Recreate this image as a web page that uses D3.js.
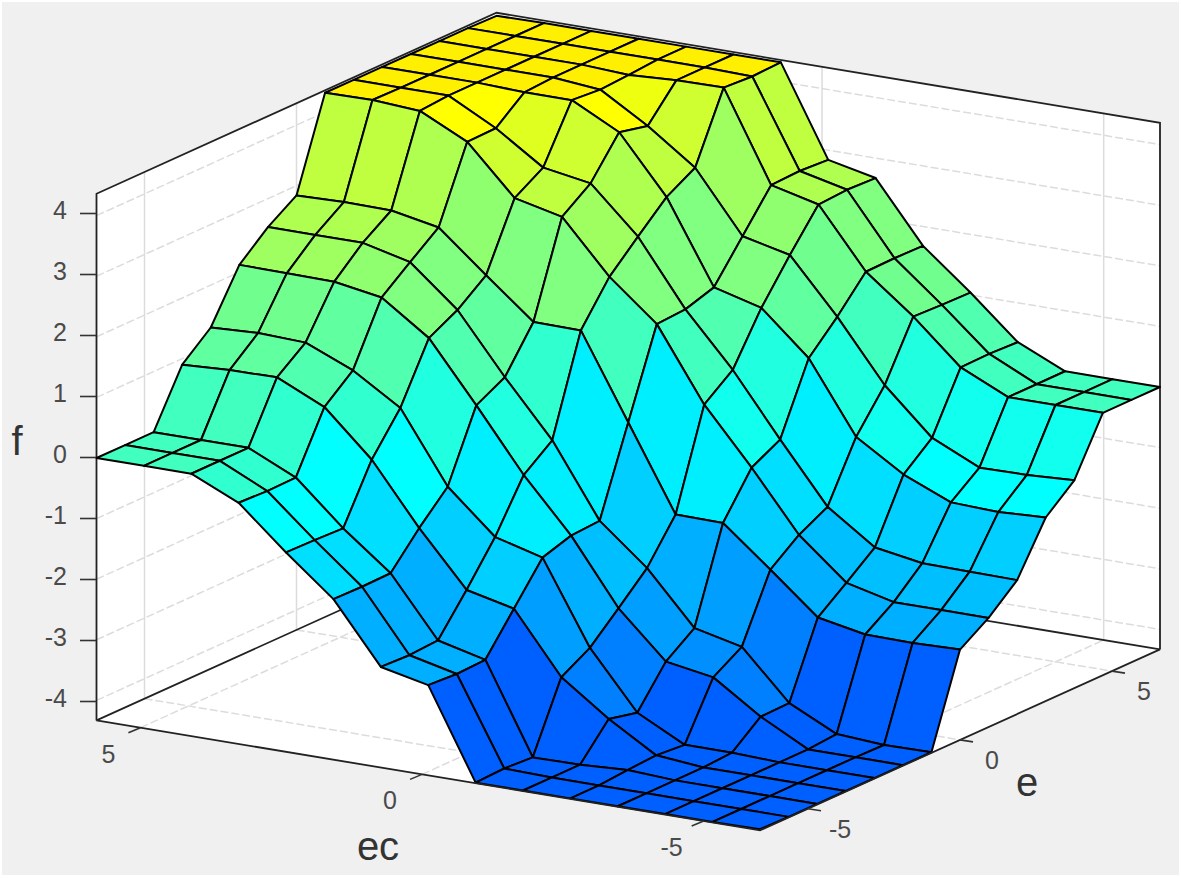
<!DOCTYPE html>
<html>
<head>
<meta charset="utf-8">
<script src="https://cdnjs.cloudflare.com/ajax/libs/d3/7.8.5/d3.min.js"></script>
<style>
  html, body { margin: 0; padding: 0; background: #fff; }
  svg { display: block; }
  text { font-family: "Liberation Sans", Arial, sans-serif; }
</style>
</head>
<body>
<div id="chart"></div>
<script>
// Tick labels
var fTicks = [-4, -3, -2, -1, 0, 1, 2, 3, 4];
var ecTicks = [5, 0, -5];
var eTicks = [-5, 0, 5];

// Surface height f, one row per ec grid line (ec high to low), e low to high
var fRow0 = [0, 0, 0, 0.90, 1.30, 2.12, 2.53, 2.84, 4.32, 4.32, 4.32, 4.32, 4.32, 4.32, 4.31];
var fRow1 = [0, 0, 0, 0.94, 1.34, 2.11, 2.53, 2.86, 4.33, 4.32, 4.32, 4.32, 4.32, 4.32, 4.32];
var fRow2 = [0, 0, 0, 0.95, 1.31, 2.10, 2.53, 2.85, 4.28, 4.32, 4.32, 4.32, 4.32, 4.32, 4.32];
var fRow3 = [-0.35, -0.37, -0.36, 0.59, 0.98, 1.97, 2.34, 2.70, 3.90, 3.91, 4.29, 4.32, 4.32, 4.32, 4.32];
var fRow4 = [-1.04, -1.05, -1.07, -0.15, 0.49, 1.43, 1.68, 2.04, 3.10, 3.39, 4.29, 4.25, 4.28, 4.32, 4.32];
var fRow5 = [-1.68, -1.69, -1.68, -1.15, -0.68, 0.45, 0.70, 1.40, 2.92, 3.26, 3.89, 3.78, 4.32, 4.32, 4.32];
var fRow6 = [-2.67, -2.69, -2.66, -2.04, -1.38, -0.57, -0.21, 1.39, 2.06, 2.51, 2.95, 3.22, 4.33, 4.30, 4.32];
var fRow7 = [-2.84, -2.87, -2.85, -2.22, -1.59, -1.44, -1.41, 0, 1.41, 1.44, 1.59, 2.22, 2.85, 2.87, 2.84];
var fRow8 = [-4.32, -4.30, -4.33, -3.22, -2.95, -2.51, -2.06, -1.39, 0.21, 0.57, 1.38, 2.04, 2.66, 2.69, 2.67];
var fRow9 = [-4.32, -4.32, -4.32, -3.78, -3.89, -3.26, -2.92, -1.40, -0.70, -0.45, 0.68, 1.15, 1.68, 1.69, 1.68];
var fRow10 = [-4.32, -4.32, -4.28, -4.25, -4.29, -3.39, -3.10, -2.04, -1.68, -1.43, -0.49, 0.15, 1.07, 1.05, 1.04];
var fRow11 = [-4.32, -4.32, -4.32, -4.32, -4.29, -3.91, -3.90, -2.70, -2.34, -1.97, -0.98, -0.59, 0.36, 0.37, 0.35];
var fRow12 = [-4.32, -4.32, -4.32, -4.32, -4.32, -4.32, -4.28, -2.85, -2.53, -2.10, -1.31, -0.95, 0, 0, 0];
var fRow13 = [-4.32, -4.32, -4.32, -4.32, -4.32, -4.32, -4.33, -2.86, -2.53, -2.11, -1.34, -0.94, 0, 0, 0];
var fRow14 = [-4.31, -4.32, -4.32, -4.32, -4.32, -4.32, -4.32, -2.84, -2.53, -2.12, -1.30, -0.90, 0, 0, 0];
var fRows = [fRow0, fRow1, fRow2, fRow3, fRow4, fRow5, fRow6, fRow7, fRow8, fRow9, fRow10, fRow11, fRow12, fRow13, fRow14];

var svgWidth = 1181;
var svgHeight = 878;

var svg = d3
    .select("#chart")
    .append("svg")
    .attr("width", svgWidth)
    .attr("height", svgHeight);

// Scales: u runs along the front left floor edge, v along the front right one
var uGrid = d3.scaleLinear().domain([0, fRows.length - 1]).range([0, 1]);
var vGrid = d3.scaleLinear().domain([0, fRow0.length - 1]).range([0, 1]);
var ecScale = d3.scaleLinear().domain([5.78, -6]).range([0, 1]);
var eScale = d3.scaleLinear().domain([-6.58, 6.58]).range([0, 1]);
var fScale = d3.scaleLinear().domain([-4.33, 4.33]).range([720.4, 195.6]);
var fAxisScale = d3.scaleLinear().domain([-4, 4]).range([701, 213]);
var xFromU = d3.scaleLinear().domain([0, 1]).range([96.5, 760]);
var xFromV = d3.scaleLinear().domain([0, 1]).range([0, 400]);
var yFromU = d3.scaleLinear().domain([0, 1]).range([0, 110]);
var yFromV = d3.scaleLinear().domain([0, 1]).range([0, -181]);

var fFloor = -4.33;
var fTop = 4.36;

// Turn a grid position and a height into a screen point
function project(u, v, f) {
    return [xFromU(u) + xFromV(v), yFromU(u) + yFromV(v) + fScale(f)];
}

// jet colormap, 64 levels, only a part of it is used by the surface
var jetPosition = d3.scaleLinear()
    .domain([-4.33, 0, 2.84, 3.85, 4.33])
    .range([0.23, 0.44, 0.567, 0.625, 0.65]);
var jet = d3.scaleLinear()
    .domain([0.125, 0.375, 0.625, 0.875])
    .range(["#0000ff", "#00ffff", "#ffff00", "#ff0000"]);

function faceColor(f) {
    return jet(Math.floor(jetPosition(f) * 64) / 64);
}

var line = d3.line();

// Grey figure background with a thin white rim
svg.append("rect")
    .attr("x", 2)
    .attr("y", 2)
    .attr("width", 1177)
    .attr("height", 873)
    .attr("fill", "#f0f0f0");

// White axes area
var wallCorners = [
    project(0, 0, fTop), project(0, 1, fTop), project(1, 1, fTop),
    project(1, 1, fFloor), project(1, 0, fFloor), project(0, 0, fFloor)
];
svg.append("path")
    .attr("d", line(wallCorners) + "Z")
    .attr("fill", "#fff");

// Grid lines on the two back walls and on the floor
var gridLines = [];
eTicks.forEach(function (e) {
    var v = eScale(e);
    gridLines.push([project(0, v, fFloor), project(0, v, fTop)]);
    gridLines.push([project(0, v, fFloor), project(1, v, fFloor)]);
});
ecTicks.forEach(function (ec) {
    var u = ecScale(ec);
    gridLines.push([project(u, 1, fFloor), project(u, 1, fTop)]);
    gridLines.push([project(u, 0, fFloor), project(u, 1, fFloor)]);
});
fTicks.forEach(function (f) {
    gridLines.push([project(0, 0, f), project(0, 1, f)]);
    gridLines.push([project(0, 1, f), project(1, 1, f)]);
});

svg.append("g")
    .selectAll("path")
    .data(gridLines)
    .enter()
    .append("path")
    .attr("d", d => line(d))
    .attr("fill", "none")
    .attr("stroke", "#dcdcdc")
    .attr("stroke-width", 1.5)
    .attr("stroke-dasharray", d => d[0][0] == d[1][0] ? null : "8,3");

// Box lines behind the surface
var boxLines = [
    [project(0, 0, fFloor), project(0, 1, fFloor), project(1, 1, fFloor)],
    [project(0, 0, fFloor), project(0, 0, fTop), project(0, 1, fTop), project(1, 1, fTop), project(1, 1, fFloor)]
];
svg.append("g")
    .selectAll("path")
    .data(boxLines)
    .enter()
    .append("path")
    .attr("d", d => line(d))
    .attr("fill", "none")
    .attr("stroke", "#222")
    .attr("stroke-width", 1.8);

// Faces, painted from the back corner to the front corner
var faces = [];
for (var a = 0; a < fRows.length - 1; a++) {
    for (var b = fRow0.length - 2; b >= 0; b--) {
        faces.push({
            points: [
                project(uGrid(a), vGrid(b), fRows[a][b]),
                project(uGrid(a + 1), vGrid(b), fRows[a + 1][b]),
                project(uGrid(a + 1), vGrid(b + 1), fRows[a + 1][b + 1]),
                project(uGrid(a), vGrid(b + 1), fRows[a][b + 1])
            ],
            level: fRows[a + 1][b]
        });
    }
}

svg.append("g")
    .selectAll("path")
    .data(faces)
    .enter()
    .append("path")
    .attr("d", d => line(d.points) + "Z")
    .attr("fill", d => faceColor(d.level))
    .attr("stroke", "#000")
    .attr("stroke-width", 2)
    .attr("stroke-linejoin", "round");

// Front floor edges
svg.append("path")
    .attr("d", line([project(0, 0, fFloor), project(1, 0, fFloor), project(1, 1, fFloor)]))
    .attr("fill", "none")
    .attr("stroke", "#222")
    .attr("stroke-width", 1.8);

// f axis
var fAxis = d3.axisLeft(fAxisScale)
    .tickValues(fTicks)
    .tickSize(16)
    .tickPadding(13)
    .tickFormat(d => String(d));

var fAxisGroup = svg.append("g")
    .attr("transform", "translate(96, 0)")
    .call(fAxis);
fAxisGroup.select(".domain").remove();
fAxisGroup.selectAll("line").attr("stroke", "#333").attr("stroke-width", 1.6);
fAxisGroup.selectAll("text")
    .attr("y", -3)
    .attr("font-size", 25)
    .attr("font-family", "Liberation Sans")
    .attr("fill", "#4a4a4a");

// ec and e axes along the floor
var ecGroup = svg.append("g");
ecTicks.forEach(function (ec) {
    var p = project(ecScale(ec), 0, fFloor);
    ecGroup.append("line")
        .attr("x1", p[0])
        .attr("y1", p[1])
        .attr("x2", p[0] - 12)
        .attr("y2", p[1] + 5)
        .attr("stroke", "#333")
        .attr("stroke-width", 1.6);
    ecGroup.append("text")
        .attr("x", p[0] - 32)
        .attr("y", p[1] + 35)
        .attr("text-anchor", "middle")
        .attr("font-size", 25)
        .attr("fill", "#4a4a4a")
        .text(ec);
});

var eGroup = svg.append("g");
eTicks.forEach(function (e) {
    var p = project(1, eScale(e), fFloor);
    eGroup.append("line")
        .attr("x1", p[0])
        .attr("y1", p[1])
        .attr("x2", p[0] + 13)
        .attr("y2", p[1] + 2)
        .attr("stroke", "#333")
        .attr("stroke-width", 1.6);
    eGroup.append("text")
        .attr("x", p[0] + 32)
        .attr("y", p[1] + 29)
        .attr("text-anchor", "middle")
        .attr("font-size", 25)
        .attr("fill", "#4a4a4a")
        .text(e);
});

// Axis titles
svg.append("text")
    .attr("x", 17)
    .attr("y", 455)
    .attr("text-anchor", "middle")
    .attr("font-size", 40)
    .attr("fill", "#333")
    .text("f");

svg.append("text")
    .attr("x", 378)
    .attr("y", 860)
    .attr("text-anchor", "middle")
    .attr("font-size", 40)
    .attr("fill", "#333")
    .text("ec");

svg.append("text")
    .attr("x", 1027)
    .attr("y", 796)
    .attr("text-anchor", "middle")
    .attr("font-size", 40)
    .attr("fill", "#333")
    .text("e");
</script>
</body>
</html>
